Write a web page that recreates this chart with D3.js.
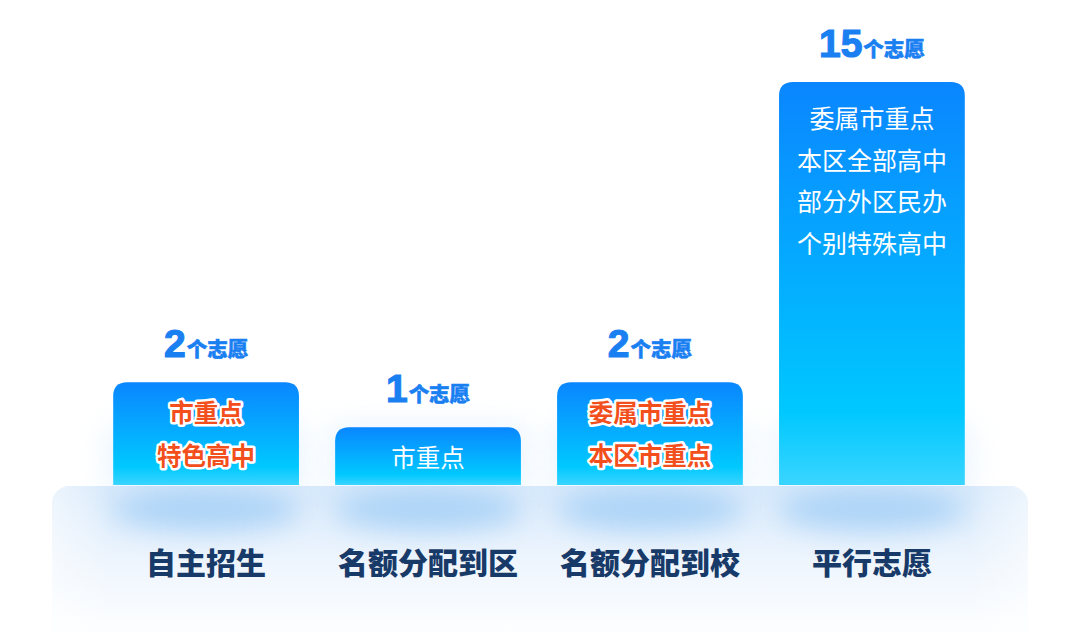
<!DOCTYPE html>
<html><head><meta charset="utf-8">
<script src="https://cdn.jsdelivr.net/npm/d3@7/dist/d3.min.js"></script>
<style>html,body{margin:0;padding:0;background:#fff;}svg{display:block;}</style>
</head><body>
<svg id="c" width="1080" height="632"></svg>
<script>
const categories = ["自主招生", "名额分配到区", "名额分配到校", "平行志愿"];
const values = [2, 1, 2, 15];
const unitLabel = "个志愿";
const barTexts = [
  ["市重点", "特色高中"],
  ["市重点"],
  ["委属市重点", "本区市重点"],
  ["委属市重点", "本区全部高中", "部分外区民办", "个别特殊高中"]
];
const highlight = [true, false, true, false];

const W = 1080, H = 632;
const svg = d3.select("#c");
const font = "'Noto Sans CJK SC','Noto Sans',sans-serif";
const baseY = 485;

const x = d3.scaleBand().domain(categories).range([91, 987]).paddingInner(0.163).paddingOuter(0.1);
const y = d3.scalePow().exponent(0.58).domain([0.173, 15]).range([baseY, 82]);

const defs = svg.append("defs");
const bg = defs.append("linearGradient").attr("id", "barG").attr("x1", 0).attr("y1", 0).attr("x2", 0).attr("y2", 1);
bg.append("stop").attr("offset", 0).attr("stop-color", "#0a86ff");
bg.append("stop").attr("offset", 0.82).attr("stop-color", "#00c8ff");
bg.append("stop").attr("offset", 1).attr("stop-color", "#3ad5ff");

const pg = defs.append("linearGradient").attr("id", "platG").attr("x1", 0).attr("y1", 0).attr("x2", 0).attr("y2", 1);
pg.append("stop").attr("offset", 0).attr("stop-color", "#d9eafb");
pg.append("stop").attr("offset", 0.45).attr("stop-color", "#eef5fd");
pg.append("stop").attr("offset", 0.8).attr("stop-color", "#fbfdff");
pg.append("stop").attr("offset", 1).attr("stop-color", "#ffffff");

const ph = defs.append("linearGradient").attr("id", "platH").attr("x1", 0).attr("y1", 0).attr("x2", 1).attr("y2", 0);
ph.append("stop").attr("offset", 0).attr("stop-color", "#ffffff").attr("stop-opacity", 0.5);
ph.append("stop").attr("offset", 0.06).attr("stop-color", "#ffffff").attr("stop-opacity", 0);
ph.append("stop").attr("offset", 0.94).attr("stop-color", "#ffffff").attr("stop-opacity", 0);
ph.append("stop").attr("offset", 1).attr("stop-color", "#ffffff").attr("stop-opacity", 0.5);

defs.append("filter").attr("id", "blur").attr("x", "-50%").attr("y", "-100%").attr("width", "200%").attr("height", "300%")
  .append("feGaussianBlur").attr("stdDeviation", 14);
defs.append("filter").attr("id", "glow").attr("x", "-50%").attr("y", "-50%").attr("width", "200%").attr("height", "200%")
  .append("feGaussianBlur").attr("stdDeviation", 14);

// soft glow behind bars
svg.append("g").selectAll("rect").data(categories).join("rect")
  .attr("x", d => x(d) - 6).attr("width", x.bandwidth() + 12)
  .attr("y", baseY - 60).attr("height", 70)
  .attr("fill", "#dbeefd").attr("opacity", 0.6).attr("filter", "url(#glow)");

// platform
const px0 = 52, px1 = 1028;
svg.append("rect").attr("x", px0).attr("y", baseY + 1).attr("width", px1 - px0).attr("height", 170)
  .attr("rx", 18).attr("fill", "url(#platG)");

// blurred shadows under bars
const platClip = defs.append("clipPath").attr("id", "pc");
platClip.append("rect").attr("x", px0).attr("y", baseY + 1).attr("width", px1 - px0).attr("height", 170).attr("rx", 18);
svg.append("g").attr("clip-path", "url(#pc)").selectAll("ellipse").data(categories).join("ellipse")
  .attr("cx", d => x(d) + x.bandwidth() / 2).attr("cy", baseY + 24)
  .attr("rx", x.bandwidth() / 2 + 2).attr("ry", 22)
  .attr("fill", "#a3cff6").attr("opacity", 0.85).attr("filter", "url(#blur)");
svg.append("rect").attr("x", px0).attr("y", baseY + 1).attr("width", px1 - px0).attr("height", 170)
  .attr("rx", 18).attr("fill", "url(#platH)");

// bars
const r = 14;
function barPath(x0, w, top, bottom) {
  return `M${x0},${bottom}V${top + r}Q${x0},${top} ${x0 + r},${top}H${x0 + w - r}Q${x0 + w},${top} ${x0 + w},${top + r}V${bottom}Z`;
}
svg.append("g").selectAll("path").data(categories).join("path")
  .attr("d", (d, i) => barPath(x(d), x.bandwidth(), y(values[i]), baseY))
  .attr("fill", "url(#barG)");

// value labels
const vl = svg.append("g").selectAll("text").data(categories).join("text")
  .attr("x", d => x(d) + x.bandwidth() / 2)
  .attr("y", (d, i) => y(values[i]) - 25)
  .attr("text-anchor", "middle")
  .attr("fill", "#1a80f2")
  .attr("font-family", font).attr("font-weight", 900);
vl.append("tspan").attr("font-size", 39).attr("font-family", "'Liberation Sans','Arial',sans-serif").attr("font-weight", "bold")
  .attr("stroke", "#1a80f2").attr("stroke-width", 1.2).text((d, i) => values[i]);
vl.append("tspan").attr("font-size", 20.5).attr("dx", 1)
  .attr("stroke", "#1a80f2").attr("stroke-width", 0.5).text(unitLabel);

// in-bar texts
categories.forEach((c, i) => {
  const cx = x(c) + x.bandwidth() / 2;
  const top = y(values[i]);
  const tall = barTexts[i].length > 2;
  const fs = tall ? 25 : 24.5;
  const gap = tall ? 41.5 : 43;
  const first = top + (tall ? 37 : 31);
  barTexts[i].forEach((t, j) => {
    const tx = svg.append("text")
      .attr("x", cx).attr("y", first + j * gap)
      .attr("dy", "0.36em")
      .attr("text-anchor", "middle")
      .attr("font-family", font)
      .attr("font-size", fs)
      .text(t);
    if (highlight[i]) {
      tx.attr("font-weight", "bold").attr("fill", "#f24f1c")
        .attr("stroke", "#ffffff").attr("stroke-width", 5).attr("stroke-linejoin", "round")
        .attr("paint-order", "stroke");
    } else {
      tx.attr("fill", "#ffffff");
    }
  });
});

// category labels
svg.append("g").selectAll("text").data(categories).join("text")
  .attr("x", d => x(d) + x.bandwidth() / 2).attr("y", 563).attr("dy", "0.36em")
  .attr("text-anchor", "middle").attr("font-family", font).attr("font-weight", 900)
  .attr("font-size", 30).attr("fill", "#183a68").text(d => d);
</script>
</body></html>
